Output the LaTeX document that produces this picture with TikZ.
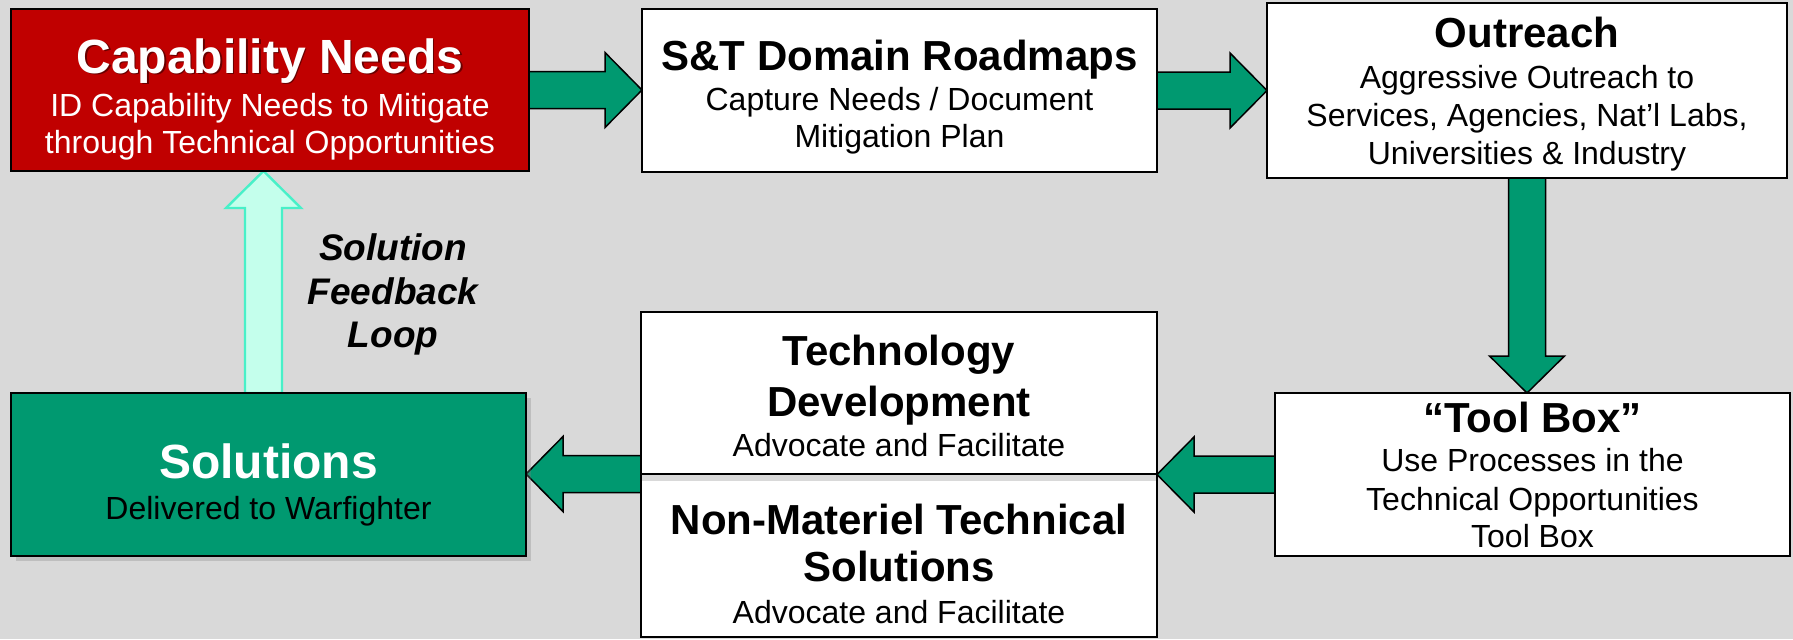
\documentclass[tikz,border=0pt]{standalone}
\usepackage{fontspec}
\setmainfont{Liberation Sans}
\usetikzlibrary{calc,shadows}
\definecolor{bggray}{RGB}{217,217,217}
\definecolor{capred}{RGB}{192,0,0}
\definecolor{solgreen}{RGB}{0,153,112}
\definecolor{mint}{RGB}{196,255,236}
\definecolor{aqua}{RGB}{72,240,200}
\pgfdeclarelayer{back}
\pgfdeclarelayer{bg}
\pgfsetlayers{back,bg,main}
\newcommand{\fbig}{\fontsize{24}{28}\selectfont\bfseries}
\newcommand{\fttl}{\fontsize{21}{25}\selectfont\bfseries}
\newcommand{\fbody}{\fontsize{16}{19}\selectfont}
\newcommand{\ffb}{\fontsize{18.5}{22}\selectfont\bfseries\itshape}
% horizontal block arrow: start, tip, direction (1 right, -1 left), style
\newcommand{\harrow}[4]{%
  \draw[#4] let \p1=(#1), \p2=(#2), \n1={\x2-(#3)*18.5pt} in
    (\x1,\y1+9.25pt) -- (\n1,\y1+9.25pt) -- (\n1,\y1+18.75pt)
    -- (\x2,\y1) -- (\n1,\y1-18.75pt) -- (\n1,\y1-9.25pt)
    -- (\x1,\y1-9.25pt) -- cycle;}
% vertical block arrow: start, tip, direction (1 down, -1 up), style
\newcommand{\varrow}[4]{%
  \draw[#4] let \p1=(#1), \p2=(#2), \n1={\y2+(#3)*18.5pt} in
    (\x1-9.25pt,\y1) -- (\x1-9.25pt,\n1) -- (\x1-18.75pt,\n1)
    -- (\x1,\y2) -- (\x1+18.75pt,\n1) -- (\x1+9.25pt,\n1)
    -- (\x1+9.25pt,\y1) -- cycle;}
\begin{document}
\begin{tikzpicture}[x=0.5pt,y=-0.5pt,
  box/.style={rectangle, draw=black, line width=1pt, inner sep=0pt, outer sep=0pt},
  ln/.style={anchor=base, inner sep=0pt, outer sep=0pt},
  blockarrow/.style={fill=solgreen, draw=black, line width=0.75pt, line join=miter},
  fbarrow/.style={fill=mint, draw=aqua, line width=1.2pt, line join=miter}]
\begin{pgfonlayer}{back}
  \fill[bggray] (0,0) rectangle (1793,639);
\end{pgfonlayer}
\useasboundingbox (0,0) rectangle (1793,639);

% boxes
\node[box, fill=capred, minimum width=259pt, minimum height=81pt] (cn) at (270,90) {};
\node[box, fill=white, minimum width=257.5pt, minimum height=81.5pt] (st) at (899.5,90.5) {};
\node[box, fill=white, minimum width=260pt, minimum height=87.5pt] (or) at (1527,90.5) {};
\node[box, fill=white, minimum width=257.5pt, minimum height=81.5pt] (tb) at (1532.5,474.5) {};
\node[box, draw=none, fill=white, minimum width=258pt, minimum height=81.5pt] (nm) at (899,555.5) {};
\fill[bggray] (nm.north west) rectangle ($(nm.north east)+(0,7)$);
\draw[line width=1pt] (nm.north west) -- (nm.south west) -- (nm.south east) -- (nm.north east);
\node[box, fill=white, minimum width=258pt, minimum height=81pt] (td) at (899,393) {};
\node[box, fill=solgreen, minimum width=257.5pt, minimum height=81.5pt,
      drop shadow={shadow xshift=2.5pt, shadow yshift=-2.5pt, opacity=0.3}] (so) at (268.5,474.5) {};

% texts
\node[ln, font=\fbig, text=black, opacity=0.45] (cn-ts) at (271.5,74.5) {Capability Needs};
\node[ln, font=\fbig, text=white] (cn-t) at (270,73) {Capability Needs};
\node[ln, font=\fbody, text=white] (cn-1) at (270,116) {ID Capability Needs to Mitigate};
\node[ln, font=\fbody, text=white] (cn-2) at (270,153) {through Technical Opportunities};

\node[ln, font=\fttl] (st-t) at (899.5,70) {S\&T Domain Roadmaps};
\node[ln, font=\fbody] (st-1) at (899.5,110) {Capture Needs / Document};
\node[ln, font=\fbody] (st-2) at (899.5,147) {Mitigation Plan};

\node[ln, font=\fttl] (or-t) at (1527,47) {Outreach};
\node[ln, font=\fbody] (or-1) at (1527,88) {Aggressive Outreach to};
\node[ln, font=\fbody] (or-2) at (1527,126) {Services, Agencies, Nat’l Labs,};
\node[ln, font=\fbody] (or-3) at (1527,164) {Universities \& Industry};

\node[ln, font=\fttl] (tb-t) at (1532.5,432) {“Tool Box”};
\node[ln, font=\fbody] (tb-1) at (1532.5,471) {Use Processes in the};
\node[ln, font=\fbody] (tb-2) at (1532.5,510) {Technical Opportunities};
\node[ln, font=\fbody] (tb-3) at (1532.5,547) {Tool Box};

\node[ln, font=\fttl] (td-t1) at (899,365) {Technology};
\node[ln, font=\fttl] (td-t2) at (899,416) {Development};
\node[ln, font=\fbody] (td-1) at (899,456) {Advocate and Facilitate};

\node[ln, font=\fttl] (nm-t1) at (899,534) {Non-Materiel Technical};
\node[ln, font=\fttl] (nm-t2) at (899,581) {Solutions};
\node[ln, font=\fbody] (nm-1) at (899,623) {Advocate and Facilitate};

\node[ln, font=\fbig, text=white] (so-t) at (268.5,478) {Solutions};
\node[ln, font=\fbody] (so-1) at (268.5,519) {Delivered to Warfighter};

\node[ln, font=\ffb] (fb-1) at (393,260) {Solution};
\node[ln, font=\ffb] (fb-2) at (393,304) {Feedback};
\node[ln, font=\ffb] (fb-3) at (393,347) {Loop};

% connectors
\coordinate (fbstart) at ($(so.north)+(-5,0)$);
\begin{pgfonlayer}{bg}
  \harrow{cn.east}{st.west}{1}{blockarrow}
  \harrow{st.east}{or.west}{1}{blockarrow}
  \varrow{or.south}{tb.north}{1}{blockarrow}
  \harrow{tb.west}{td.south east}{-1}{blockarrow}
  \harrow{td.south west}{so.east}{-1}{blockarrow}
  \varrow{fbstart}{cn.south}{-1}{fbarrow}
\end{pgfonlayer}
\end{tikzpicture}
\end{document}
